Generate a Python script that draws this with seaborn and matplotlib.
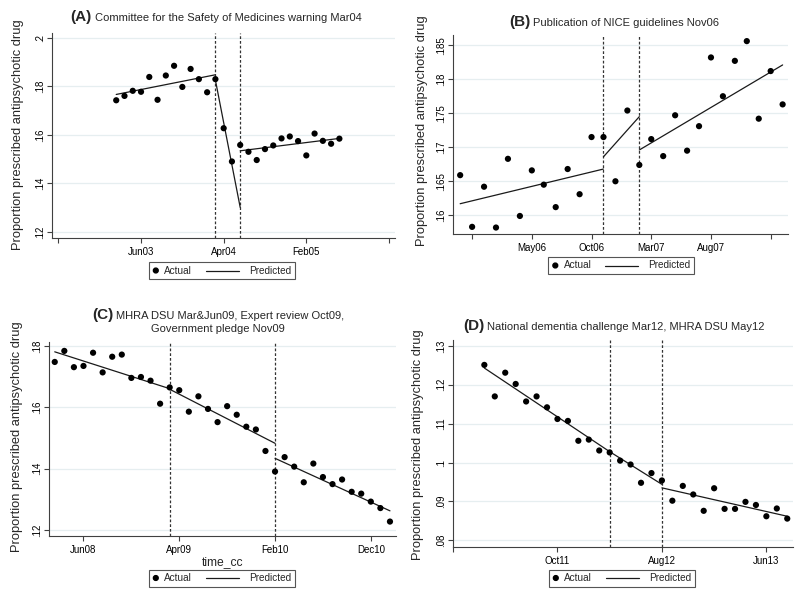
import numpy as np
import pandas as pd
import matplotlib
matplotlib.use("Agg")
import matplotlib.pyplot as plt
import seaborn as sns
from matplotlib.lines import Line2D
from matplotlib.patches import Circle
from matplotlib.offsetbox import (TextArea, HPacker, VPacker,
                                  AnchoredOffsetbox, DrawingArea)

# ======================================
# DATA
# ======================================

MONTHS = ["Jan", "Feb", "Mar", "Apr", "May", "Jun",
          "Jul", "Aug", "Sep", "Oct", "Nov", "Dec"]


def to_m(s):
    # "Jun03" -> month index
    return int(s[3:]) * 12 + MONTHS.index(s[:3])


# (A) CSM warning Mar04
a_start = "Mar03"
a_actual = [.1742, .1760, .1781, .1777, .1838, .1744, .1844, .1884, .1797,
            .1871, .1829, .1775, .1829, .1627, .1490, .1558, .1530, .1496,
            .1541, .1556, .1585, .1593, .1574, .1515, .1605, .1575, .1563,
            .1584]
a_pred = [("Mar03", "Mar04", .1766, .1847),
          ("Mar04", "Jun04", .1825, .1301),
          ("Jun04", "Jun05", .1534, .1585)]
a_vlines = ["Mar04", "Jun04"]
a_xticks = ["Aug02", "Jun03", "Apr04", "Feb05", "Dec05"]
a_xlabels = ["", "Jun03", "Apr04", "Feb05", ""]
a_yticks = [.12, .14, .16, .18, .2]
a_ylabels = [".12", ".14", ".16", ".18", ".2"]

# (B) NICE guidelines Nov06
b_start = "Nov05"
b_actual = [.1659, .1583, .1642, .1582, .1683, .1599, .1666, .1645, .1612,
            .1668, .1631, .1715, .1715, .1650, .1754, .1674, .1712, .1687,
            .1747, .1695, .1731, .1832, .1775, .1827, .1856, .1742, .1812,
            .1763]
b_pred = [("Nov05", "Nov06", .1617, .1668),
          ("Nov06", "Feb07", .1686, .1745),
          ("Feb07", "Feb08", .1696, .1821)]
b_vlines = ["Nov06", "Feb07"]
b_xticks = ["Dec05", "May06", "Oct06", "Mar07", "Aug07", "Jan08"]
b_xlabels = ["", "May06", "Oct06", "Mar07", "Aug07", ""]
b_yticks = [.16, .165, .17, .175, .18, .185]
b_ylabels = [".16", ".165", ".17", ".175", ".18", ".185"]

# (C) MHRA DSU / expert review / pledge 2009
c_start = "Mar08"
c_actual = [.1748, .1784, .1731, .1735, .1778, .1714, .1765, .1772, .1696,
            .1699, .1687, .1612, .1665, .1656, .1586, .1636, .1595, .1552,
            .1604, .1576, .1537, .1528, .1458, .1391, .1438, .1407, .1356,
            .1417, .1373, .1350, .1365, .1325, .1319, .1293, .1272, .1228]
c_pred = [("Mar08", "Mar09", .1781, .1661),
          ("Mar09", "Feb10", .1659, .1483),
          ("Feb10", "Feb11", .1434, .1263)]
c_vlines = ["Mar09", "Feb10"]
c_xticks = ["Jun08", "Apr09", "Feb10", "Dec10"]
c_xlabels = ["Jun08", "Apr09", "Feb10", "Dec10"]
c_yticks = [.12, .14, .16, .18]
c_ylabels = [".12", ".14", ".16", ".18"]

# (D) National dementia challenge 2012
d_start = "Mar11"
d_actual = [.1251, .1170, .1231, .1202, .1157, .1170, .1142, .1112, .1107,
            .1056, .1059, .1031, .1026, .1005, .0995, .0948, .0973, .0954,
            .0902, .0940, .0918, .0876, .0934, .0881, .0881, .0899, .0891,
            .0862, .0882, .0856]
d_pred = [("Mar11", "Mar12", .1243, .1028),
          ("Mar12", "Aug12", .1028, .0944),
          ("Aug12", "Aug13", .0935, .0862)]
d_vlines = ["Mar12", "Aug12"]
d_xticks = ["Dec10", "Oct11", "Aug12", "Jun13"]
d_xlabels = ["", "Oct11", "Aug12", "Jun13"]
d_yticks = [.08, .09, .1, .11, .12, .13]
d_ylabels = [".08", ".09", ".1", ".11", ".12", ".13"]

# ======================================
# STYLE
# ======================================

sns.set_theme(style="white")
plt.rcParams["font.family"] = ["Liberation Sans", "DejaVu Sans"]

INK = "#1a1a1a"
AXIS = "#404040"
GRID = "#e6eef0"

fig = plt.figure(figsize=(8, 5.97), dpi=100)
W, H = 800, 597
PT = 72 / 100  # px -> pt


def rect(l, t, r, b):
    return [l / W, 1 - b / H, (r - l) / W, (b - t) / H]


def stata_legend(xy):
    # marker + "Actual", long line + "Predicted", in a thin square box
    dot = DrawingArea(9 * PT, 10 * PT, 0, 0)
    dot.add_artist(Circle((3.8 * PT, 5 * PT), 2.4 * PT, color="black"))
    gap = DrawingArea(3 * PT, 10 * PT, 0, 0)
    seg = DrawingArea(57 * PT, 10 * PT, 0, 0)
    seg.add_artist(Line2D([14 * PT, 47 * PT], [5 * PT, 5 * PT],
                          color=INK, lw=0.9))
    row = HPacker(children=[
        dot, gap,
        TextArea("Actual", textprops=dict(fontsize=7.2)),
        seg,
        TextArea("Predicted", textprops=dict(fontsize=7.2)),
    ], align="center", pad=0, sep=0)
    box = AnchoredOffsetbox(loc="center", child=row, pad=0.35, borderpad=0,
                            frameon=True, prop=dict(size=7.2),
                            bbox_to_anchor=(xy[0] / W, 1 - xy[1] / H),
                            bbox_transform=fig.transFigure)
    box.patch.set_boxstyle("square", pad=0)
    box.patch.set_edgecolor("#555555")
    box.patch.set_linewidth(0.8)
    fig.add_artist(box)


panels = [
    dict(tag="(A)", title=["Committee for the Safety of Medicines warning Mar04"],
         start=a_start, actual=a_actual, pred=a_pred, vlines=a_vlines,
         xticks=a_xticks, xlabels=a_xlabels, yticks=a_yticks, ylabels=a_ylabels,
         rect=rect(52, 33, 395, 238), xpad=(-0.77, 0.73), xlim_from_ticks=True,
         ylim=(.1175, .2019), title_xy=(216, 17), ylab_xy=(18, 135),
         leg_xy=(221.5, 270.5), xlab=None),
    dict(tag="(B)", title=["Publication of NICE guidelines Nov06"],
         start=b_start, actual=b_actual, pred=b_pred, vlines=b_vlines,
         xticks=b_xticks, xlabels=b_xlabels, yticks=b_yticks, ylabels=b_ylabels,
         rect=rect(453, 35, 788, 234), xpad=(-0.6, 0.45), xlim_from_ticks=False,
         ylim=(.15725, .1865), title_xy=(614, 22), ylab_xy=(422, 131),
         leg_xy=(621, 265.5), xlab=None),
    dict(tag="(C)", title=["MHRA DSU Mar&Jun09, Expert review Oct09,",
                           "Government pledge Nov09"],
         start=c_start, actual=c_actual, pred=c_pred, vlines=c_vlines,
         xticks=c_xticks, xlabels=c_xlabels, yticks=c_yticks, ylabels=c_ylabels,
         rect=rect(49, 342, 396, 536), xpad=(-0.6, 0.63), xlim_from_ticks=False,
         ylim=(.1181, .1813), title_xy=(218, 321), ylab_xy=(17, 437),
         leg_xy=(221.5, 578), xlab="time_cc"),
    dict(tag="(D)", title=["National dementia challenge Mar12, MHRA DSU May12"],
         start=d_start, actual=d_actual, pred=d_pred, vlines=d_vlines,
         xticks=d_xticks, xlabels=d_xlabels, yticks=d_yticks, ylabels=d_ylabels,
         rect=rect(453, 340, 793, 547), xpad=(-0.36, 0.55), xlim_from_ticks=False,
         ylim=(.0783, .1315), title_xy=(614, 326), ylab_xy=(418, 445),
         leg_xy=(621.5, 578), xlab=None),
]

# ======================================
# DRAW PANELS
# ======================================

for p in panels:

    ax = fig.add_axes(p["rect"])

    m0 = to_m(p["start"])
    df = pd.DataFrame({
        "month": np.arange(m0, m0 + len(p["actual"])),
        "prop": p["actual"],
    })

    # horizontal grid
    for yv in p["yticks"]:
        ax.axhline(yv, color=GRID, lw=0.9, zorder=0)

    # intervention lines
    for v in p["vlines"]:
        ax.axvline(to_m(v), color="#333333", lw=0.9,
                   linestyle=(0, (2.2, 1.6)), zorder=1)

    # predicted segments
    for s0, s1, y0, y1 in p["pred"]:
        seg = pd.DataFrame({"month": [to_m(s0), to_m(s1)], "prop": [y0, y1]})
        sns.lineplot(data=seg, x="month", y="prop", ax=ax, color=INK,
                     lw=0.9, zorder=2)

    sns.scatterplot(data=df, x="month", y="prop", ax=ax, color="black",
                    s=20, edgecolor="none", zorder=3)

    # axes
    if p["xlim_from_ticks"]:
        lo, hi = to_m(p["xticks"][0]), to_m(p["xticks"][-1])
    else:
        lo, hi = df["month"].min(), df["month"].max()
    ax.set_xlim(lo + p["xpad"][0], hi + p["xpad"][1])
    ax.set_ylim(*p["ylim"])

    ax.set_xticks([to_m(t) for t in p["xticks"]])
    ax.set_xticklabels(p["xlabels"])
    ax.set_yticks(p["yticks"])
    ax.set_yticklabels(p["ylabels"], rotation=90, va="center")

    ax.tick_params(axis="both", which="both", direction="out", length=3.5,
                   width=0.8, color=AXIS, labelsize=7, labelcolor="black")
    ax.tick_params(axis="y", pad=1.5)
    ax.tick_params(axis="x", pad=3)
    ax.tick_params(bottom=True, left=True)

    for side in ["top", "right"]:
        ax.spines[side].set_visible(False)
    for side in ["left", "bottom"]:
        ax.spines[side].set_color(AXIS)
        ax.spines[side].set_linewidth(0.8)

    ax.set_ylabel("")
    if p["xlab"]:
        ax.set_xlabel(p["xlab"], fontsize=8.7, labelpad=1)
    else:
        ax.set_xlabel("")
    ax.set_facecolor("white")

    # y-axis title
    fig.text(p["ylab_xy"][0] / W, 1 - p["ylab_xy"][1] / H,
             "Proportion prescribed antipsychotic drug",
             rotation=90, ha="center", va="center", fontsize=9.25)

    # panel title: bold tag + plain text
    first = HPacker(children=[
        TextArea(p["tag"], textprops=dict(fontsize=11, fontweight="bold")),
        TextArea(p["title"][0], textprops=dict(fontsize=8)),
    ], align="baseline", pad=0, sep=2)
    rows = [first]
    for extra in p["title"][1:]:
        rows.append(TextArea(extra, textprops=dict(fontsize=8)))
    box = VPacker(children=rows, align="center", pad=0, sep=1)
    anchored = AnchoredOffsetbox(
        loc="center", child=box, frameon=False, pad=0, borderpad=0,
        bbox_to_anchor=(p["title_xy"][0] / W, 1 - p["title_xy"][1] / H),
        bbox_transform=fig.transFigure)
    fig.add_artist(anchored)

    # legend below each panel
    stata_legend(p["leg_xy"])

fig.savefig("out.png", dpi=100, facecolor="white")
